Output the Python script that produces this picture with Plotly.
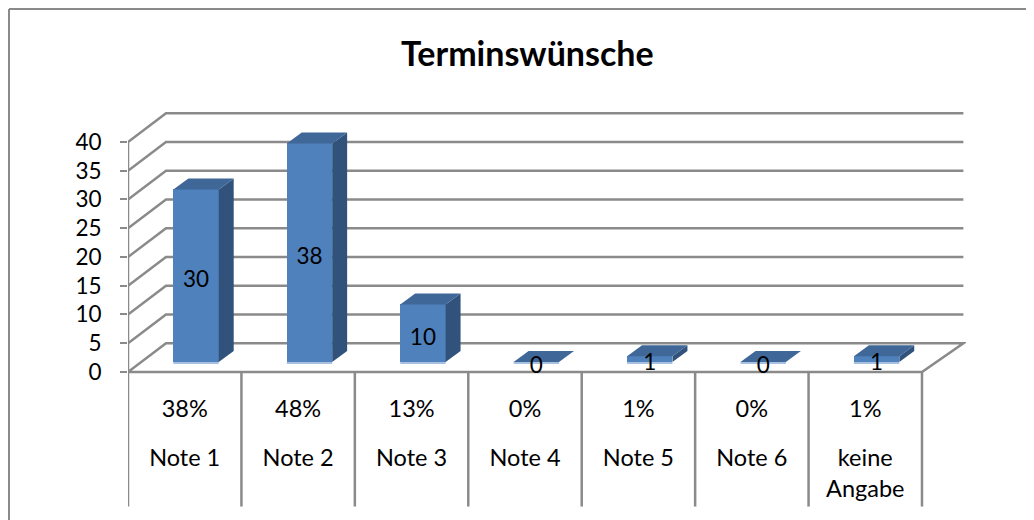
import plotly.graph_objects as go

categories = ["Note 1", "Note 2", "Note 3", "Note 4", "Note 5", "Note 6", "keine<br>Angabe"]
counts = [30, 38, 10, 0, 1, 0, 1]
percents = ["38%", "48%", "13%", "0%", "1%", "0%", "1%"]
y_ticks = [0, 5, 10, 15, 20, 25, 30, 35, 40]

FONT = "Lato"
GRID = "#8A8A8A"
FRONT = "#4F81BD"
TOP = "#3F6797"
SIDE = "#31537B"
BASE = "#A9C1E0"
TXT = "#000000"

# 3D projection, in axis units
WALL_DX, WALL_DY = 0.335, 5.0
WALL_END = 7.365
BAR_DX, BAR_DY = 0.132, 1.9
BAR_W = 0.4
BAR_X0 = 0.4
BAR_Y0 = 1.74
N = len(categories)
Y_BOTTOM = -23.4

fig = go.Figure()
shapes = []


def line(xs, ys, width=2.5, color=GRID):
    path = "M " + " L ".join(f"{x},{y}" for x, y in zip(xs, ys))
    shapes.append(dict(type="path", path=path, xref="x", yref="y", layer="below",
                       line=dict(color=color, width=width)))


def poly(xs, ys, color):
    fig.add_trace(go.Scatter(x=xs, y=ys, mode="lines", fill="toself", fillcolor=color,
                             line=dict(color=color, width=0), hoverinfo="skip",
                             cliponaxis=False, showlegend=False))


# back wall gridlines and side wall slants
for v in y_ticks:
    if v == 0:
        continue
    line([0, WALL_DX, WALL_END], [v, v + WALL_DY, v + WALL_DY])
# floor
line([0, WALL_DX, WALL_END, N, 0], [0, WALL_DY, WALL_DY, 0, 0])
# left axis line
line([0, 0], [0, y_ticks[-1]])
# category table rules
for i in range(N + 1):
    line([i, i], [0, Y_BOTTOM])

# bars
fronts_x = [i + BAR_X0 for i in range(N)]
fig.add_trace(go.Bar(x=fronts_x, y=counts, base=[BAR_Y0] * N, width=[BAR_W] * N, offset=0,
                     marker=dict(color=FRONT, line=dict(width=0)), hoverinfo="skip",
                     cliponaxis=False, showlegend=False))
for x0, v in zip(fronts_x, counts):
    y0 = BAR_Y0
    y1 = y0 + v
    x1 = x0 + BAR_W
    poly([x1, x1 + BAR_DX, x1 + BAR_DX, x1, x1],
         [y0, y0 + BAR_DY, y1 + BAR_DY, y1, y0], SIDE)
    poly([x0, x0 + BAR_DX, x1 + BAR_DX, x1, x0],
         [y1, y1 + BAR_DY, y1 + BAR_DY, y1, y1], TOP)
    fig.add_trace(go.Scatter(x=[x0, x1], y=[y0 - 0.17, y0 - 0.17], mode="lines",
                             line=dict(color=BASE, width=2), hoverinfo="skip",
                             cliponaxis=False, showlegend=False))

# data labels
fig.add_trace(go.Scatter(x=[i + 0.6 for i in range(N)],
                         y=[0.75 + v / 2 for v in counts],
                         text=[str(v) for v in counts], mode="text", textposition="middle center",
                         textfont=dict(family=FONT, size=22.5, color=TXT),
                         hoverinfo="skip", cliponaxis=False, showlegend=False))
# table rows
fig.add_trace(go.Scatter(x=[i + 0.5 for i in range(N)], y=[-6.76] * N, text=percents, mode="text",
                         textposition="middle center",
                         textfont=dict(family=FONT, size=23.5, color=TXT),
                         hoverinfo="skip", cliponaxis=False, showlegend=False))
fig.add_trace(go.Scatter(x=[i + 0.5 for i in range(N)], y=[-13.3] * N, text=categories, mode="text",
                         textposition="bottom center",
                         textfont=dict(family=FONT, size=23.5, color=TXT),
                         hoverinfo="skip", cliponaxis=False, showlegend=False))

fig.update_layout(
    width=1026, height=512,
    margin=dict(l=120, r=68, t=92, b=8, autoexpand=False),
    paper_bgcolor="#FFFFFF", plot_bgcolor="rgba(0,0,0,0)",
    showlegend=False,
    bargap=0,
    xaxis=dict(range=[0, 7.388], visible=False),
    yaxis=dict(range=[-24.35, 47.3], tickvals=y_ticks, ticks="outside", ticklen=7, tickwidth=2,
               tickcolor=GRID, showgrid=False, zeroline=False, showline=False,
               ticklabelstandoff=14,
               tickfont=dict(family=FONT, size=22.5, color=TXT)),
    annotations=[dict(text="<b>Terminswünsche</b>", xref="paper", yref="paper",
                      x=(527 - 128) / 838, y=(512 - 53) / 412,
                      showarrow=False, xanchor="center", yanchor="middle",
                      font=dict(family=FONT, size=34, color=TXT))],
    shapes=shapes + [dict(type="line", xref="paper", yref="paper", layer="below",
                          x0=-119 / 838, x1=1.08, y0=1 + (92 - 1) / 412, y1=1 + (92 - 1) / 412,
                          line=dict(color=GRID, width=2)),
                     dict(type="line", xref="paper", yref="paper", layer="below",
                          x0=-119 / 838, x1=-119 / 838, y0=-8 / 412, y1=1 + (92 - 1) / 412,
                          line=dict(color=GRID, width=2))],
)

fig.write_html("out.html")
